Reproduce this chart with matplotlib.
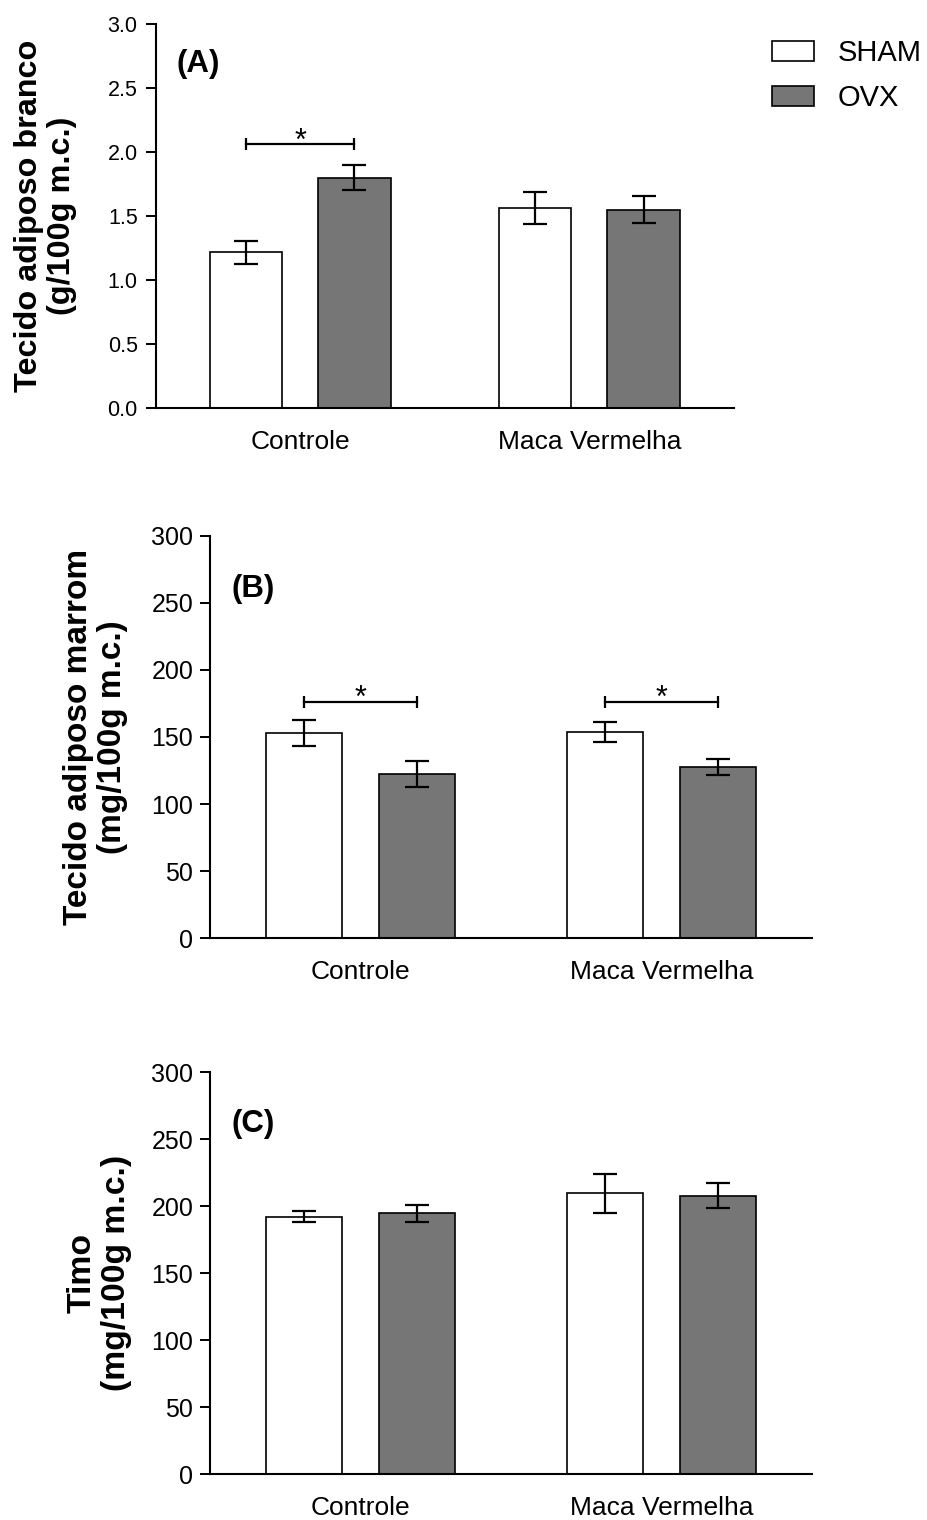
import numpy as np
import matplotlib
matplotlib.use("Agg")
import matplotlib.pyplot as plt

plt.rcParams["font.family"] = ["Liberation Sans", "DejaVu Sans"]

groups = ["Controle", "Maca Vermelha"]
series = ["SHAM", "OVX"]

# (A) white adipose tissue, g/100g body mass
wat_sham = [1.215, 1.56]
wat_sham_err = [0.087, 0.125]
wat_ovx = [1.80, 1.55]
wat_ovx_err = [0.10, 0.108]
wat_sig = [(0, 2.06)]

# (B) brown adipose tissue, mg/100g body mass
bat_sham = [152.9, 153.8]
bat_sham_err = [9.6, 7.2]
bat_ovx = [122.2, 127.7]
bat_ovx_err = [9.7, 6.2]
bat_sig = [(0, 176.3), (1, 176.3)]

# (C) thymus, mg/100g body mass
thy_sham = [192.2, 209.7]
thy_sham_err = [4.2, 14.7]
thy_ovx = [194.7, 207.8]
thy_ovx_err = [6.2, 9.4]
thy_sig = []

W, H = 928, 1520
fig = plt.figure(figsize=(W / 100, H / 100), dpi=100)

panels = [
    dict(rect=(155.7, 24, 734, 408), sham=wat_sham, sham_err=wat_sham_err,
         ovx=wat_ovx, ovx_err=wat_ovx_err, sig=wat_sig, ylim=(0, 3.0),
         yticks=np.arange(0, 3.01, 0.5), fmt="{:.1f}", tag="(A)", tag_y=0.895,
         ylabel="Tecido adiposo branco\n(g/100g m.c.)", lab_x=-0.136,
         lab_fs=23.3, tick_fs=15.5, tick_pad=6, xpad=16),
    dict(rect=(210, 535.7, 812, 938.3), sham=bat_sham, sham_err=bat_sham_err,
         ovx=bat_ovx, ovx_err=bat_ovx_err, sig=bat_sig, ylim=(0, 300),
         yticks=np.arange(0, 301, 50), fmt="{:.0f}", tag="(B)", tag_y=0.868,
         ylabel="Tecido adiposo marrom\n(mg/100g m.c.)", lab_x=-0.136,
         lab_fs=24, tick_fs=18, tick_pad=5, xpad=15.5),
    dict(rect=(210, 1072.3, 812, 1474), sham=thy_sham, sham_err=thy_sham_err,
         ovx=thy_ovx, ovx_err=thy_ovx_err, sig=thy_sig, ylim=(0, 300),
         yticks=np.arange(0, 301, 50), fmt="{:.0f}", tag="(C)", tag_y=0.871,
         ylabel="Timo\n(mg/100g m.c.)", lab_x=-0.130,
         lab_fs=24.3, tick_fs=18, tick_pad=5, xpad=15.5),
]

x = np.arange(len(groups))
off, bw = 0.1875, 0.25
err_kw = dict(ecolor="black", elinewidth=1.6, capsize=8.5, capthick=1.6)

handles = None
for p in panels:
    x0, y0, x1, y1 = p["rect"]
    ax = fig.add_axes([x0 / W, 1 - y1 / H, (x1 - x0) / W, (y1 - y0) / H])
    b1 = ax.bar(x - off, p["sham"], bw, yerr=p["sham_err"], color="white",
                edgecolor="black", linewidth=1.2, error_kw=err_kw, label=series[0],
                zorder=2)
    b2 = ax.bar(x + off, p["ovx"], bw, yerr=p["ovx_err"], color="#767676",
                edgecolor="black", linewidth=1.2, error_kw=err_kw, label=series[1],
                zorder=2)
    if handles is None:
        handles = [b1, b2]

    for g, yb in p["sig"]:
        ax.plot([g - off, g + off], [yb, yb], color="black", lw=1.6,
                marker="|", markersize=9, markeredgewidth=1.6, zorder=3)
        ax.annotate("*", (g, yb), xytext=(0, -4), textcoords="offset points",
                    ha="center", va="baseline", fontsize=22)

    ax.set_xlim(-0.5, 1.5)
    ax.set_ylim(*p["ylim"])
    ax.set_yticks(p["yticks"])
    ax.set_yticklabels([p["fmt"].format(v) for v in p["yticks"]])
    ax.set_xticks(x)
    ax.set_xticklabels(groups)
    ax.tick_params(axis="x", length=0, pad=p["xpad"], labelsize=19)
    ax.tick_params(axis="y", length=7, width=1.4, pad=p["tick_pad"],
                   labelsize=p["tick_fs"])
    for s in ("top", "right"):
        ax.spines[s].set_visible(False)
    for s in ("left", "bottom"):
        ax.spines[s].set_linewidth(1.5)

    ax.set_ylabel(p["ylabel"], fontsize=p["lab_fs"], fontweight="bold",
                  linespacing=1.15)
    ax.yaxis.set_label_coords(p["lab_x"], 0.5)
    ax.text(0.036, p["tag_y"], p["tag"], transform=ax.transAxes,
            fontsize=22.5, fontweight="bold", ha="left", va="center")

fig.legend(handles, series, loc="upper left", bbox_to_anchor=(772 / W, 1 - 39 / H),
           frameon=False, fontsize=21, handlelength=1.44, handleheight=0.69,
           handletextpad=0.82, labelspacing=0.59, borderpad=0, borderaxespad=0)

fig.savefig("out.png", dpi=100)
